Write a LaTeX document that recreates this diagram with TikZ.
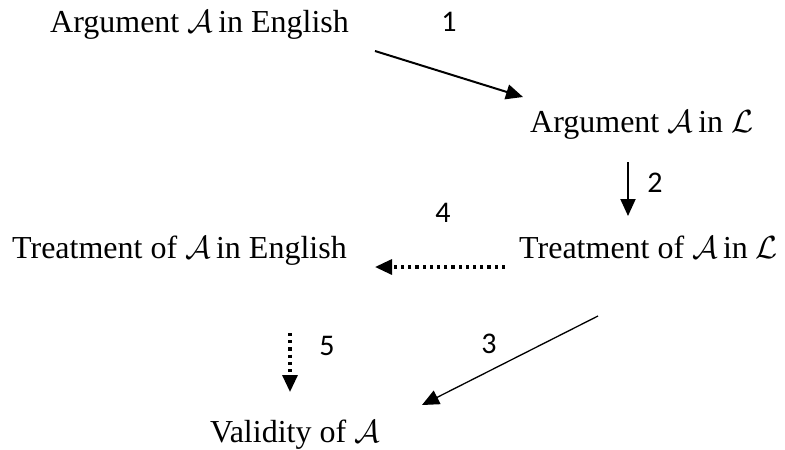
\RequirePackage{fix-cm}
\documentclass[tikz,border=0pt]{standalone}
\usepackage{fontspec}
\setmainfont{Liberation Serif}
\newfontfamily\numfont{Carlito}
\usetikzlibrary{arrows.meta}
\tikzset{
  lbl/.style={anchor=base west, inner sep=0pt, font=\fontsize{32}{36}\selectfont},
  num/.style={anchor=center, inner sep=0pt, font=\numfont\fontsize{30}{34}\selectfont},
  tip/.style={-{Triangle[length=17pt,width=15pt]}},
  solidarrow/.style={tip, line width=2pt},
  thinarrow/.style={tip, line width=1.3pt},
  dotarrow/.style={tip, line width=3.2pt, dash pattern=on 3.2pt off 4pt}
}
\begin{document}
\begin{tikzpicture}[x=1pt,y=1pt]
\useasboundingbox (0,0) rectangle (785,-450);
\node[lbl] (ae) at (50,-32) {Argument $\mathcal{A}$\,in English};
\node[lbl] (al) at (530,-132) {Argument $\mathcal{A}$\,in $\mathcal{L}$};
\node[lbl] (tl) at (519,-258) {Treatment of $\mathcal{A}$\,in $\mathcal{L}$};
\node[lbl] (te) at (12,-258) {Treatment of $\mathcal{A}$\,in English};
\node[lbl] (va) at (210,-442) {Validity of $\mathcal{A}$};

\node[num] (n1) at (449,-22) {1};
\node[num] (n2) at (655,-183) {2};
\node[num] (n4) at (443,-213) {4};
\node[num] (n5) at (327,-346) {5};
\node[num] (n3) at (489,-344) {3};

\coordinate (a1s) at (375,-51);
\coordinate (a1e) at (523,-97);
\coordinate (a2s) at (628,-162);
\coordinate (a2e) at (628,-216);
\coordinate (a4s) at (505,-267);
\coordinate (a4e) at (375,-267);
\coordinate (a5s) at (290,-333);
\coordinate (a5e) at (290,-392);
\coordinate (a3s) at (598,-316);
\coordinate (a3e) at (422,-405);

\draw[solidarrow] (a1s) -- (a1e);
\draw[solidarrow] (a2s) -- (a2e);
\draw[dotarrow] (a4s) -- (a4e);
\draw[dotarrow] (a5s) -- (a5e);
\draw[thinarrow] (a3s) -- (a3e);
\end{tikzpicture}
\end{document}
